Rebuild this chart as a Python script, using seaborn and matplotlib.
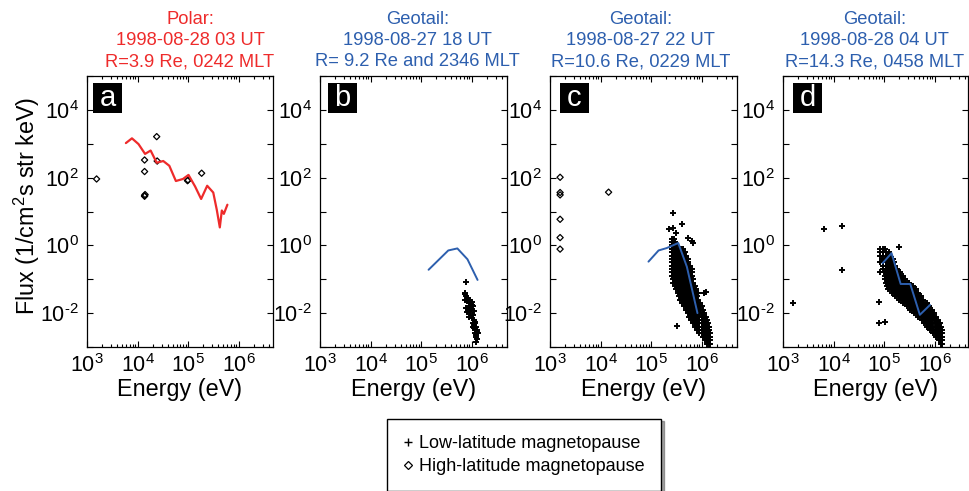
import numpy as np
import pandas as pd
import matplotlib
matplotlib.use("Agg")
import matplotlib.pyplot as plt
import seaborn as sns
from matplotlib.ticker import FixedLocator, FuncFormatter, NullFormatter
from matplotlib.lines import Line2D
from matplotlib.patches import Rectangle

sns.set_theme(style="ticks")
plt.rcParams["font.family"] = ["Liberation Sans", "DejaVu Sans"]
plt.rcParams["mathtext.fontset"] = "custom"
plt.rcParams["mathtext.rm"] = "Liberation Sans"
plt.rcParams["mathtext.it"] = "Liberation Sans:italic"
plt.rcParams["mathtext.bf"] = "Liberation Sans:bold"
plt.rcParams["axes.unicode_minus"] = False
plt.rcParams["text.color"] = "black"
plt.rcParams["axes.labelcolor"] = "black"
plt.rcParams["xtick.color"] = "black"
plt.rcParams["ytick.color"] = "black"

# ---------------- data (log10 energy [eV], log10 flux) ----------------
panel_letters = ["a", "b", "c", "d"]
panel_titles = [
    "Polar:\n1998-08-28 03 UT\nR=3.9 Re, 0242 MLT",
    "Geotail:\n1998-08-27 18 UT\nR= 9.2 Re and 2346 MLT",
    "Geotail:\n1998-08-27 22 UT\nR=10.6 Re, 0229 MLT",
    "Geotail:\n1998-08-28 04 UT\nR=14.3 Re, 0458 MLT",
]
legend_labels = ["Low-latitude magnetopause", "High-latitude magnetopause"]
x_label = "Energy (eV)"
y_label = "Flux (1/cm$^2$s str keV)"

# panel a (Polar spectrum, red)
a_line_logE = [3.77, 3.89, 4.02, 4.15, 4.26, 4.38, 4.51, 4.63, 4.76, 4.90,
               5.01, 5.14, 5.26, 5.38, 5.50, 5.57, 5.63, 5.67, 5.71, 5.78]
a_line_logF = [3.02, 3.16, 2.99, 2.70, 2.80, 2.44, 2.49, 2.35, 1.90, 1.96,
               2.08, 1.74, 1.37, 1.76, 1.56, 1.05, 0.53, 1.03, 0.93, 1.20]
a_high_logE = [3.19, 4.14, 4.14, 4.14, 4.14, 4.15, 4.38, 4.39, 4.99, 5.00, 5.27]
a_high_logF = [1.96, 2.52, 2.18, 1.47, 1.45, 1.50, 3.21, 2.49, 1.91, 1.93, 2.13]
a_low_logE = []
a_low_logF = []

# panel b
b_line_logE = [5.15, 5.54, 5.72, 5.92, 6.12]
b_line_logF = [-0.72, -0.15, -0.09, -0.41, -1.02]
b_low_logE = [5.89, 5.87, 5.88, 5.90, 5.93, 5.88, 5.92, 5.95, 5.98, 6.00, 5.96, 5.90,
              5.94, 5.99, 6.02, 6.05, 6.03, 5.98, 5.91, 5.96, 6.01, 6.04, 6.06, 6.02,
              6.05, 6.08, 6.04, 6.07, 6.10, 6.06, 6.09, 6.11, 6.08, 6.10, 6.09, 6.12,
              6.07, 5.97, 6.00, 6.03]
b_low_logF = [-1.07, -1.40, -1.45, -1.50, -1.55, -1.62, -1.65, -1.60, -1.70, -1.75, -1.78, -1.85,
              -1.90, -1.88, -1.80, -1.95, -2.05, -2.00, -1.98, -2.10, -2.15, -2.20, -2.25, -2.30,
              -2.35, -2.40, -2.45, -2.50, -2.55, -2.60, -2.65, -2.50, -2.70, -2.75, -2.85, -2.60,
              -2.30, -1.92, -1.68, -2.40]
b_high_logE = []
b_high_logF = []

# panel c
c_line_logE = [4.95, 5.15, 5.31, 5.54, 5.71, 5.92]
c_line_logF = [-0.48, -0.15, -0.08, 0.07, -0.63, -2.00]
c_high_logE = [3.20, 3.20, 3.20, 3.20, 3.20, 3.20, 4.16]
c_high_logF = [2.01, 1.56, 1.49, 0.77, 0.23, -0.11, 1.57]
c_low_rows_logF = [0.2, 0.1, 0.0, -0.1, -0.2, -0.3, -0.4, -0.5, -0.6, -0.7, -0.8, -0.9,
                   -1.0, -1.1, -1.2, -1.3, -1.4, -1.5, -1.6, -1.7, -1.8, -1.9, -2.0,
                   -2.1, -2.2, -2.3, -2.4, -2.5, -2.6, -2.7, -2.8, -2.9]
c_low_rows_logE = [
    [5.41, 5.46],
    [5.41, 5.48],
    [5.41, 5.45, 5.50],
    [5.41, 5.44, 5.48, 5.52, 5.56, 5.60, 5.64],
    [5.41, 5.44, 5.48, 5.52, 5.56, 5.60, 5.64, 5.68],
    [5.41, 5.45, 5.49, 5.53, 5.57, 5.61, 5.65, 5.69],
    [5.41, 5.45, 5.49, 5.53, 5.57, 5.61, 5.65, 5.69, 5.73],
    [5.41, 5.45, 5.49, 5.53, 5.57, 5.61, 5.65, 5.69, 5.73],
    [5.41, 5.45, 5.49, 5.53, 5.57, 5.61, 5.65, 5.69, 5.73, 5.77],
    [5.41, 5.45, 5.49, 5.53, 5.57, 5.61, 5.65, 5.69, 5.73, 5.77, 5.81],
    [5.41, 5.45, 5.49, 5.53, 5.57, 5.61, 5.65, 5.69, 5.73, 5.77, 5.81],
    [5.42, 5.46, 5.50, 5.54, 5.58, 5.62, 5.66, 5.70, 5.74, 5.78, 5.82],
    [5.43, 5.47, 5.51, 5.55, 5.59, 5.63, 5.67, 5.71, 5.75, 5.79, 5.83],
    [5.44, 5.48, 5.52, 5.56, 5.60, 5.64, 5.68, 5.72, 5.76, 5.80, 5.84],
    [5.47, 5.51, 5.55, 5.59, 5.63, 5.67, 5.71, 5.75, 5.79, 5.83, 5.87],
    [5.50, 5.54, 5.58, 5.62, 5.66, 5.70, 5.74, 5.78, 5.82, 5.86, 5.89],
    [5.53, 5.57, 5.61, 5.65, 5.69, 5.73, 5.77, 5.81, 5.85, 5.89, 5.92],
    [5.56, 5.60, 5.64, 5.68, 5.72, 5.76, 5.80, 5.84, 5.88, 5.92],
    [5.58, 5.62, 5.66, 5.70, 5.74, 5.78, 5.82, 5.86, 5.90, 5.94],
    [5.62, 5.66, 5.70, 5.74, 5.78, 5.82, 5.86, 5.90, 5.94, 5.97],
    [5.66, 5.70, 5.74, 5.78, 5.82, 5.86, 5.90, 5.94, 5.98, 6.01],
    [5.70, 5.74, 5.78, 5.82, 5.86, 5.90, 5.94, 5.98, 6.02],
    [5.73, 5.77, 5.81, 5.85, 5.89, 5.93, 5.97, 6.01, 6.05],
    [5.76, 5.80, 5.84, 5.88, 5.92, 5.96, 6.00, 6.04, 6.08],
    [5.80, 5.84, 5.88, 5.92, 5.96, 6.00, 6.04, 6.08, 6.10],
    [5.84, 5.88, 5.92, 5.96, 6.00, 6.04, 6.08, 6.12],
    [5.88, 5.92, 5.96, 6.00, 6.04, 6.08, 6.12, 6.14],
    [5.92, 5.96, 6.00, 6.04, 6.08, 6.12, 6.15],
    [5.96, 6.00, 6.04, 6.08, 6.12, 6.16],
    [6.02, 6.06, 6.10, 6.14, 6.17],
    [6.06, 6.10, 6.14, 6.17],
    [6.10, 6.14, 6.17],
]
c_low_extra_logE = [5.36, 5.44, 5.43, 5.61, 5.50, 5.74, 5.81, 5.84, 6.08, 5.52, 5.94, 6.05]
c_low_extra_logF = [0.48, 0.51, 0.95, 0.63, 0.36, 0.21, 0.14, 0.06, -1.39, -2.38, -1.41, -1.41]

# panel d
d_line_logE = [4.97, 5.15, 5.33, 5.52, 5.71, 5.91]
d_line_logF = [-0.53, -0.23, -1.14, -1.14, -2.05, -1.76]
d_high_logE = []
d_high_logF = []
d_low_rows_logF = [-0.1, -0.2, -0.3, -0.4, -0.5, -0.6, -0.7, -0.8, -0.9, -1.0, -1.1,
                   -1.2, -1.3, -1.4, -1.5, -1.6, -1.7, -1.8, -1.9, -2.0, -2.1, -2.2,
                   -2.3, -2.4, -2.5, -2.6, -2.7, -2.8, -2.9]
d_low_rows_logE = [
    [4.92, 4.98, 5.01],
    [4.92, 4.98, 5.04, 5.09],
    [4.92, 4.99, 5.03, 5.07, 5.11],
    [4.97, 5.01, 5.05, 5.09, 5.13, 5.17],
    [4.92, 4.99, 5.03, 5.07, 5.11, 5.15, 5.19],
    [4.99, 5.03, 5.07, 5.11, 5.15, 5.19, 5.22],
    [4.99, 5.03, 5.07, 5.11, 5.15, 5.19, 5.23, 5.26],
    [4.92, 5.00, 5.04, 5.08, 5.12, 5.16, 5.20, 5.24, 5.28, 5.31],
    [5.01, 5.05, 5.09, 5.13, 5.17, 5.21, 5.25, 5.29, 5.33, 5.37],
    [5.01, 5.05, 5.09, 5.13, 5.17, 5.21, 5.25, 5.29, 5.33, 5.37, 5.42],
    [5.03, 5.07, 5.11, 5.15, 5.19, 5.23, 5.27, 5.31, 5.35, 5.39, 5.43, 5.47, 5.50],
    [5.05, 5.09, 5.13, 5.17, 5.21, 5.25, 5.29, 5.33, 5.37, 5.41, 5.45, 5.49, 5.53, 5.57],
    [5.08, 5.12, 5.16, 5.20, 5.24, 5.28, 5.32, 5.36, 5.40, 5.44, 5.48, 5.52, 5.56, 5.60, 5.63],
    [5.15, 5.19, 5.23, 5.27, 5.31, 5.35, 5.39, 5.43, 5.47, 5.51, 5.55, 5.59, 5.63, 5.67],
    [5.22, 5.26, 5.30, 5.34, 5.38, 5.42, 5.46, 5.50, 5.54, 5.58, 5.62, 5.66, 5.70, 5.74],
    [5.30, 5.34, 5.38, 5.42, 5.46, 5.50, 5.54, 5.58, 5.62, 5.66, 5.70, 5.74, 5.78],
    [5.37, 5.41, 5.45, 5.49, 5.53, 5.57, 5.61, 5.65, 5.69, 5.73, 5.77, 5.81, 5.85],
    [5.45, 5.49, 5.53, 5.57, 5.61, 5.65, 5.69, 5.73, 5.77, 5.81, 5.85, 5.89],
    [5.52, 5.56, 5.60, 5.64, 5.68, 5.72, 5.76, 5.80, 5.84, 5.88, 5.92, 5.95],
    [5.60, 5.64, 5.68, 5.72, 5.76, 5.80, 5.84, 5.88, 5.92, 5.96, 5.99],
    [5.67, 5.71, 5.75, 5.79, 5.83, 5.87, 5.91, 5.95, 5.99, 6.02],
    [5.75, 5.79, 5.83, 5.87, 5.91, 5.95, 5.99, 6.03, 6.06],
    [5.80, 5.84, 5.88, 5.92, 5.96, 6.00, 6.04, 6.08, 6.10],
    [5.86, 5.90, 5.94, 5.98, 6.02, 6.06, 6.10, 6.13],
    [5.91, 5.95, 5.99, 6.03, 6.07, 6.11, 6.14],
    [5.97, 6.01, 6.05, 6.09, 6.13, 6.15],
    [6.03, 6.07, 6.11, 6.14],
    [6.08, 6.12, 6.15],
    [6.12, 6.15],
]
d_low_extra_logE = [3.20, 3.82, 4.17, 4.17, 4.91, 4.91, 5.02, 5.30]
d_low_extra_logF = [-1.69, 0.48, 0.56, -0.72, -1.66, -2.30, -2.25, -0.04]

line_colors = ["#ee2b2b", "#2d5fae", "#2d5fae", "#2d5fae"]


def rows_to_points(rows_logF, rows_logE, extra_logE, extra_logF):
    xs, ys = [], []
    for f, es in zip(rows_logF, rows_logE):
        for e in es:
            xs.append(e)
            ys.append(f)
    return xs + list(extra_logE), ys + list(extra_logF)


c_low_logE, c_low_logF = rows_to_points(c_low_rows_logF, c_low_rows_logE,
                                        c_low_extra_logE, c_low_extra_logF)
d_low_logE, d_low_logF = rows_to_points(d_low_rows_logF, d_low_rows_logE,
                                        d_low_extra_logE, d_low_extra_logF)

panels = [
    (a_line_logE, a_line_logF, a_low_logE, a_low_logF, a_high_logE, a_high_logF),
    (b_line_logE, b_line_logF, b_low_logE, b_low_logF, b_high_logE, b_high_logF),
    (c_line_logE, c_line_logF, c_low_logE, c_low_logF, c_high_logE, c_high_logF),
    (d_line_logE, d_line_logF, d_low_logE, d_low_logF, d_high_logE, d_high_logF),
]

# ---------------- layout ----------------
W, H = 969, 491
fig = plt.figure(figsize=(W / 100, H / 100), dpi=100)
ax_px = [(87, 186), (320, 187), (550, 187), (783, 185)]
top_px, bot_px = 76, 347
title_x = [0.554, 0.522, 0.485, 0.495]
letter_x = [0.032, 0.043, 0.053, 0.054]

TICK_FS = 15.5
LABEL_FS = 16.8


def exp_str(k):
    return ("\u2010%d" % -k) if k < 0 else ("%d" % k)


def xfmt(v, pos):
    return "$10^{%s}$" % exp_str(int(round(np.log10(v))))


def yfmt(v, pos):
    k = int(round(np.log10(v)))
    if k % 2 == 0 and -2 <= k <= 4:
        return "$10^{%s}$" % exp_str(k)
    return ""


for i, (lE, lF, loE, loF, hiE, hiF) in enumerate(panels):
    left, width = ax_px[i]
    ax = fig.add_axes([left / W, 1 - bot_px / H, width / W, (bot_px - top_px) / H])
    ax.set_xscale("log")
    ax.set_yscale("log")

    if len(loE):
        df_lo = pd.DataFrame({"E": np.power(10.0, loE), "F": np.power(10.0, loF)})
        sns.scatterplot(data=df_lo, x="E", y="F", marker="+", color="black",
                        s=18, linewidth=1.4, ax=ax, legend=False, zorder=2)
    if len(hiE):
        df_hi = pd.DataFrame({"E": np.power(10.0, hiE), "F": np.power(10.0, hiF)})
        sns.scatterplot(data=df_hi, x="E", y="F", marker="D", facecolor="none",
                        edgecolor="black", s=10, linewidth=0.9, ax=ax,
                        legend=False, zorder=2)
    df_line = pd.DataFrame({"E": np.power(10.0, lE), "F": np.power(10.0, lF)})
    sns.lineplot(data=df_line, x="E", y="F", sort=False, estimator=None,
                 color=line_colors[i], linewidth=1.6 if i == 0 else 1.4,
                 ax=ax, legend=False, zorder=3)

    ax.set_xlim(1e3, 10 ** (3 + width / 50.5))
    ax.set_ylim(1e-3, 1e5)

    ax.xaxis.set_major_locator(FixedLocator([1e3, 1e4, 1e5, 1e6]))
    ax.xaxis.set_minor_locator(FixedLocator(
        [m * 10.0 ** k for k in range(3, 7) for m in range(2, 10)]))
    ax.xaxis.set_major_formatter(FuncFormatter(xfmt))
    ax.xaxis.set_minor_formatter(NullFormatter())
    ax.yaxis.set_major_locator(FixedLocator([10.0 ** k for k in range(-3, 6)]))
    ax.yaxis.set_minor_locator(FixedLocator([]))
    ax.yaxis.set_major_formatter(FuncFormatter(yfmt))

    ax.tick_params(which="both", direction="in", top=True, right=True,
                   colors="black", labelsize=TICK_FS, width=0.8)
    ax.tick_params(which="major", length=4)
    ax.tick_params(which="minor", length=2)
    ax.tick_params(axis="y", pad=6)
    ax.tick_params(axis="x", pad=5)
    for sp in ax.spines.values():
        sp.set_color("black")
        sp.set_linewidth(0.9)

    ax.set_xlabel(x_label, fontsize=LABEL_FS, labelpad=1, color="black")
    if i == 0:
        ax.set_ylabel(y_label, fontsize=LABEL_FS, color="black")
        ax.yaxis.set_label_coords(-0.24, 0.52)
    else:
        ax.set_ylabel("")

    ax.set_title(panel_titles[i], color=line_colors[i], fontsize=13.2,
                 x=title_x[i], pad=7, linespacing=1.32)

    # panel letter
    bw, bh = 29 / width, 30 / (bot_px - top_px)
    by = 1 - 7 / (bot_px - top_px) - bh
    ax.add_patch(Rectangle((letter_x[i], by), bw, bh, transform=ax.transAxes,
                           facecolor="black", edgecolor="none", zorder=5))
    ax.text(letter_x[i] + bw / 2, by + bh / 2, panel_letters[i],
            transform=ax.transAxes, ha="center", va="center",
            color="white", fontsize=21, zorder=6)

# legend
handles = [
    Line2D([], [], marker="+", ls="none", color="black", markersize=6, markeredgewidth=1.0),
    Line2D([], [], marker="D", ls="none", markerfacecolor="none",
           markeredgecolor="black", markersize=4.5, markeredgewidth=0.9),
]
leg = fig.legend(handles, legend_labels, loc="center",
                 bbox_to_anchor=(524 / W, 1 - 455 / H), fontsize=13,
                 frameon=True, fancybox=False, shadow=True, edgecolor="black",
                 handlelength=0.5, handletextpad=0.4, borderpad=0.9,
                 labelspacing=0.35, labelcolor="black")
leg.get_frame().set_linewidth(1.0)

fig.savefig("out.png", dpi=100)
